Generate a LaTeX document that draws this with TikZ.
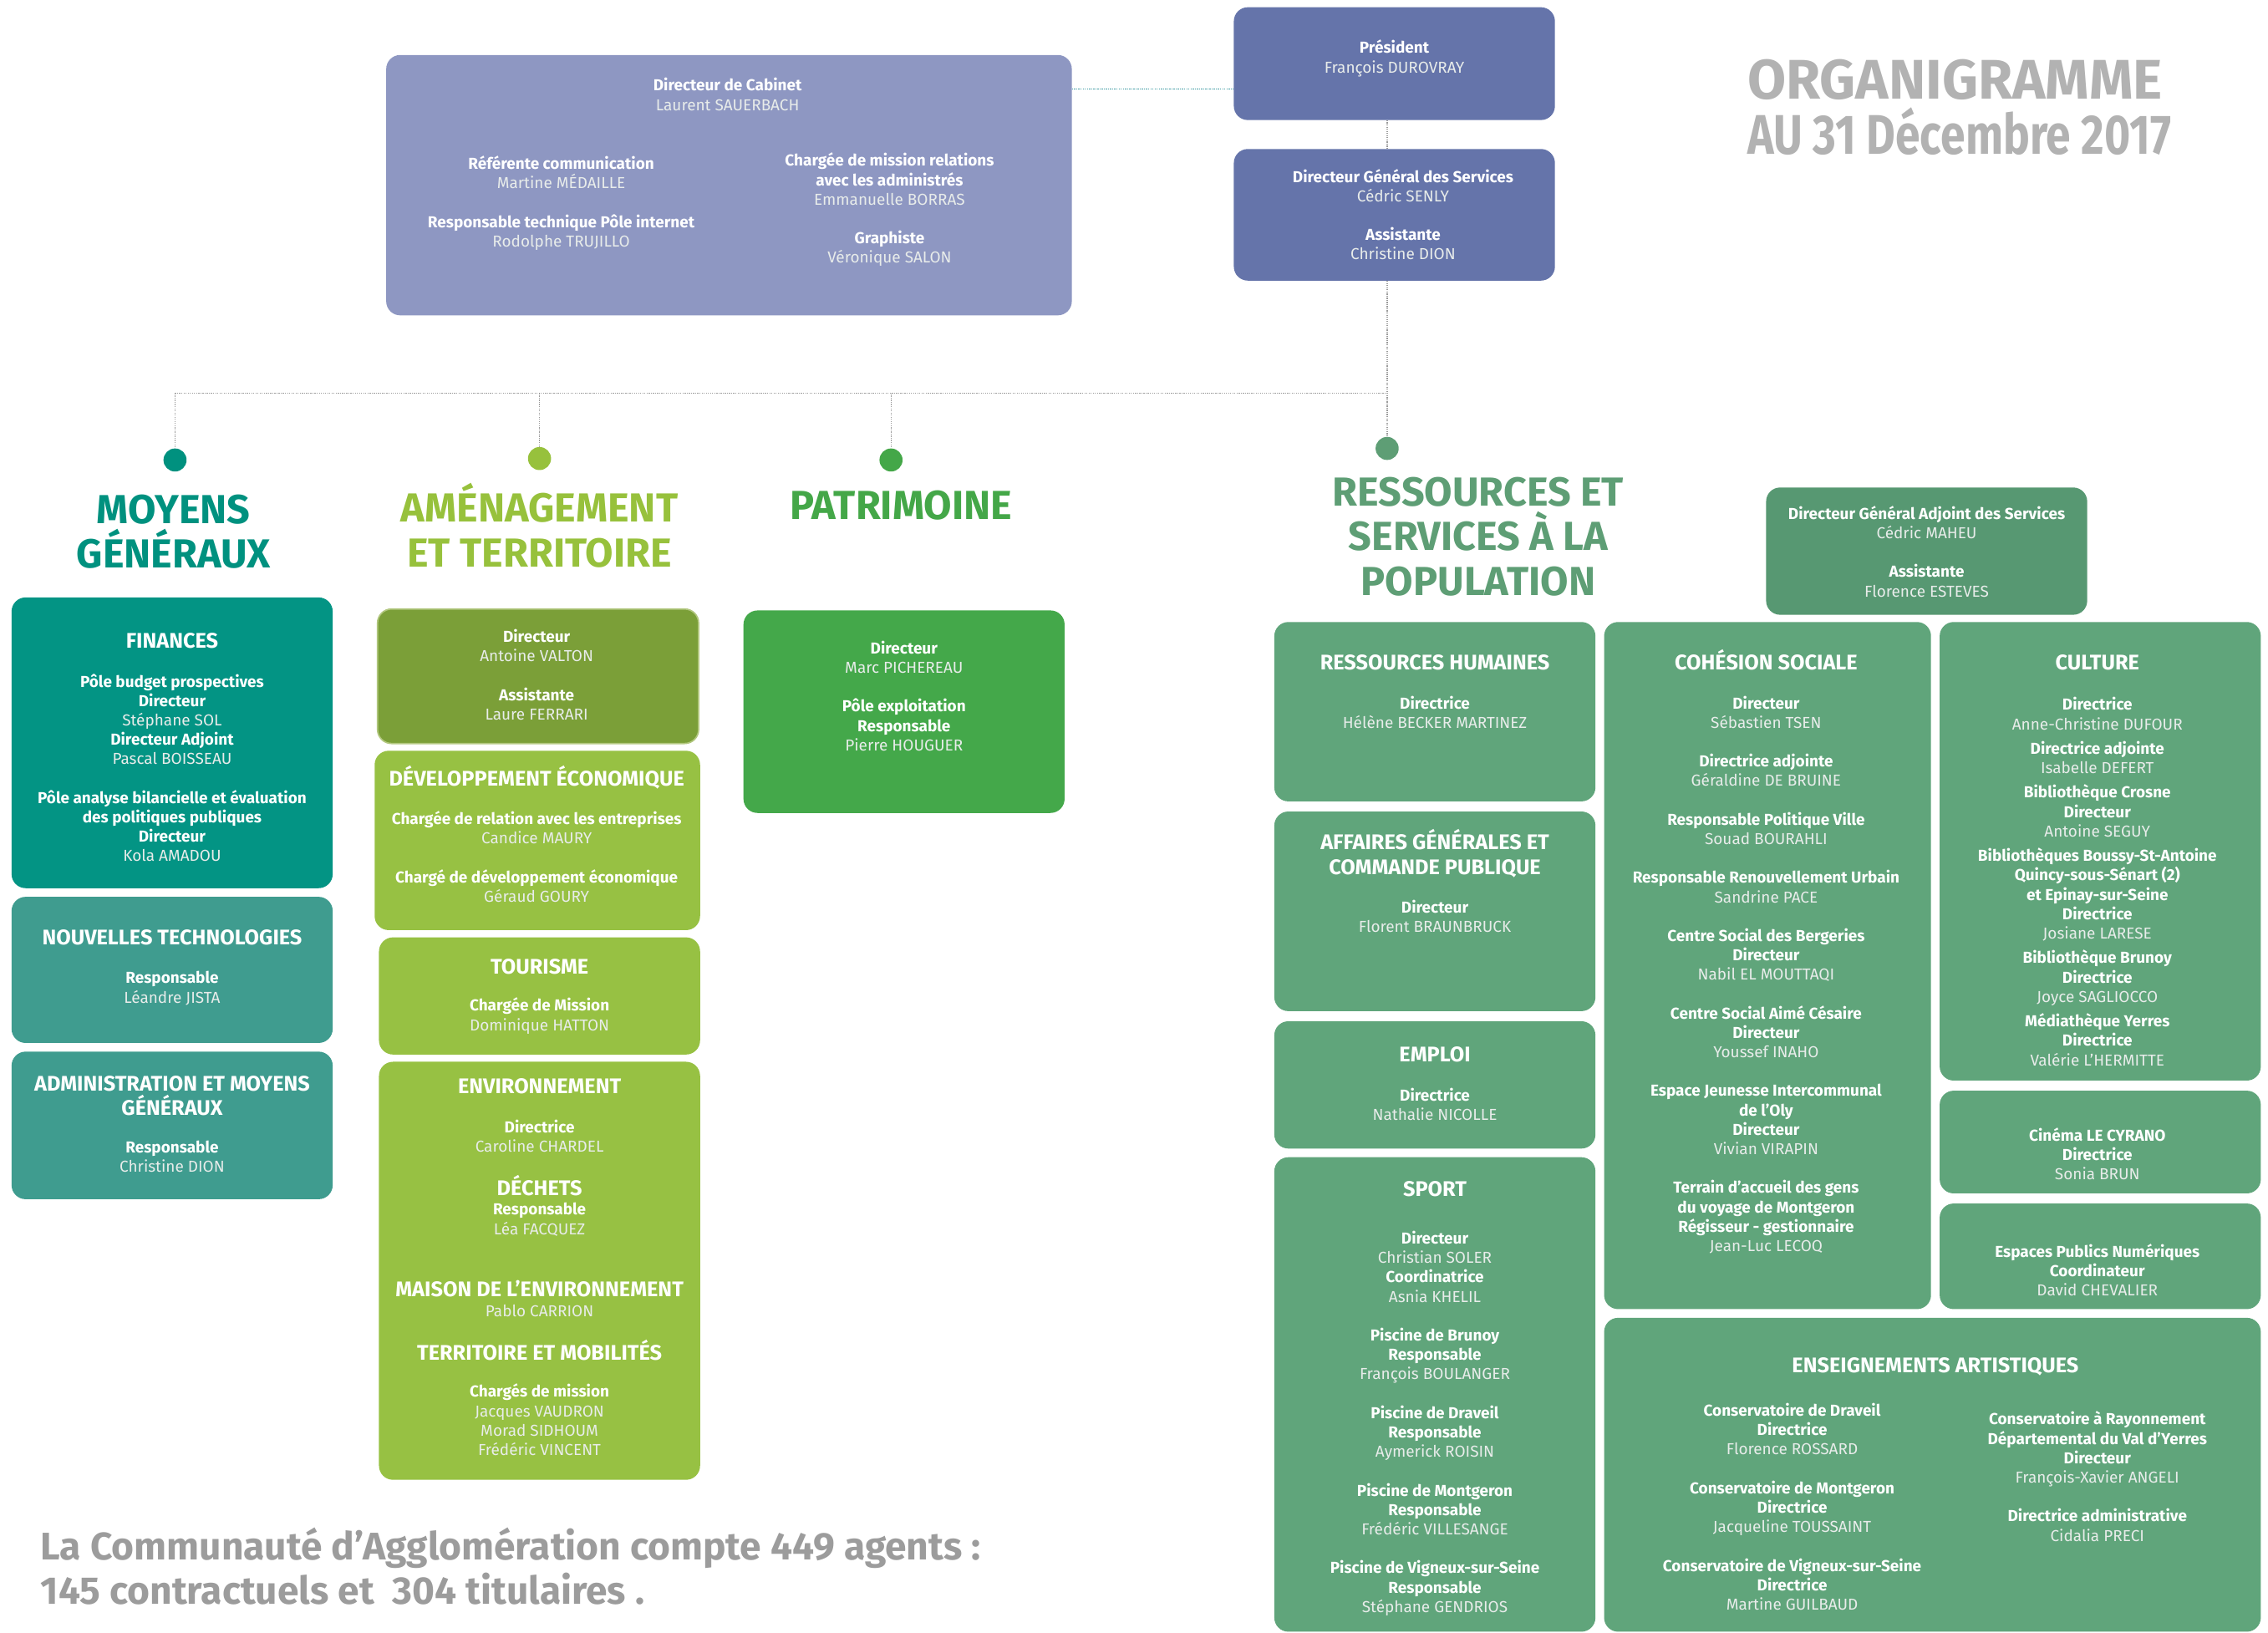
\documentclass[tikz,border=0pt]{standalone}
\usepackage{fontspec}
\usepackage{graphicx}
\setmainfont{Fira Sans}
\usetikzlibrary{fit,calc}
\definecolor{cabcol}{HTML}{8E97C2}
\definecolor{prescol}{HTML}{6574AA}
\definecolor{finteal}{HTML}{039484}
\definecolor{teallight}{HTML}{3F9C8F}
\definecolor{tealhead}{HTML}{00917F}
\definecolor{limehead}{HTML}{97C13C}
\definecolor{limebox}{HTML}{97C143}
\definecolor{olive}{HTML}{7B9F38}
\definecolor{olivebd}{HTML}{B2C77F}
\definecolor{patgreen}{HTML}{44A84A}
\definecolor{pathead}{HTML}{44A748}
\definecolor{sagehead}{HTML}{5E9E75}
\definecolor{dgacol}{HTML}{579872}
\definecolor{sagebox}{HTML}{60A57B}
\definecolor{titlegrey}{HTML}{B2B2B2}
\definecolor{botgrey}{HTML}{9C9C9C}
\definecolor{dotgrey}{HTML}{9A9A9A}
\definecolor{cabline}{HTML}{3D9AA3}
\definecolor{namecol}{HTML}{E8ECEA}
\newcommand\Rl[1]{{\bfseries #1}}
\newcommand\Nm[1]{{\color{namecol}#1}}
\newcommand\Bx[6]{\node[orgbox, fill=#6, fit={(#2,#3) (#4,#5)}] (#1) {};}
\newcommand\Bd[4]{\node[bodytxt,yshift=13pt] (#1) at (#2,#3+3.8) {\rule{0pt}{13pt}#4};}
\newcommand\Hd[4]{\node[hdtxt,yshift=17pt] (#1) at (#2,#3+5.0) {\rule{0pt}{17pt}#4};}
\newcommand\Sc[5]{\node[sectxt,text=#5,yshift=33pt] (#1) at (#2,#3+9.7) {\rule{0pt}{33pt}#4};}
\begin{document}
\begin{tikzpicture}[x=0.432717mm, y=-0.432717mm,
  orgbox/.style={rounded corners=4.2mm, inner sep=0pt, draw=none},
  bodytxt/.style={anchor=north, align=center, inner sep=0pt, text=white, font=\fontsize{13.5}{16.5}\selectfont},
  hdtxt/.style={anchor=north, align=center, inner sep=0pt, text=white, font=\fontsize{18}{21}\selectfont\bfseries},
  sectxt/.style={anchor=north, align=center, inner sep=0pt, font=\fontsize{34.5}{38}\selectfont\bfseries},
  conn/.style={draw=dotgrey, line width=0.9pt, dash pattern=on 0.9pt off 0.9pt},
  cabconn/.style={draw=cabline, line width=1.1pt, dash pattern=on 1pt off 0.8pt},
  bullet/.style={circle, inner sep=0pt, minimum size=6.9mm, draw=none}]
\path[use as bounding box] (0,0) rectangle (1568,1128.35);

% ---------- boxes ----------
\Bx{cab}{267}{38}{741}{218}{cabcol}
\Bx{pres}{853}{5}{1075}{83}{prescol}
\Bx{dgs}{853}{103}{1075}{194}{prescol}
\Bx{fin}{8}{413}{230}{614}{finteal}
\Bx{nt}{8}{620}{230}{721}{teallight}
\Bx{adm}{8}{727}{230}{829}{teallight}
\node[orgbox, fill=olive, draw=olivebd, line width=1.2pt, fit={(261,421) (483,514)}] (amdir) {};
\Bx{dev}{259}{519}{484}{643}{limebox}
\Bx{tour}{262}{648}{484}{729}{limebox}
\Bx{env}{262}{734}{484}{1023}{limebox}
\Bx{pat}{514}{422}{736}{562}{patgreen}
\Bx{dga}{1221}{337}{1443}{425}{dgacol}
\Bx{rh}{881}{430}{1103}{554}{sagebox}
\Bx{aff}{881}{561}{1103}{699}{sagebox}
\Bx{emp}{881}{706}{1103}{794}{sagebox}
\Bx{sport}{881}{800}{1103}{1128}{sagebox}
\Bx{coh}{1109}{430}{1335}{905}{sagebox}
\Bx{cul}{1341}{430}{1563}{747}{sagebox}
\Bx{cin}{1341}{754}{1563}{825}{sagebox}
\Bx{epn}{1341}{832}{1563}{905}{sagebox}
\Bx{ens}{1109}{911}{1563}{1128}{sagebox}

% ---------- bullets ----------
\node[bullet, fill=tealhead] (d1) at (121,318) {};
\node[bullet, fill=limehead] (d2) at (373,317) {};
\node[bullet, fill=pathead] (d3) at (616,318) {};
\node[bullet, fill=sagehead] (d4) at (959,310) {};

% ---------- connectors ----------
\coordinate (cl) at (0,61.5);
\coordinate (bus) at (0,272);
\draw[cabconn] (cab.east |- cl) -- (pres.west |- cl);
\draw[conn] (pres.south -| d4) -- (dgs.north -| d4);
\draw[conn] (dgs.south -| d4) -- (d4.north);
\draw[conn] (bus -| d1) -- (bus -| d4);
\draw[conn] (bus -| d1) -- (d1.north);
\draw[conn] (bus -| d2) -- (d2.north);
\draw[conn] (bus -| d3) -- (d3.north);

% ---------- title ----------
\node[anchor=north west, align=left, inner sep=0pt, yshift=44pt, text=titlegrey,
  font=\fontsize{47.5}{46.8}\selectfont\bfseries] (title) at (1208,68.3)
  {\rule{0pt}{44pt}ORGANIGRAMME\\\scalebox{0.80}[1]{AU 31 Décembre 2017}};

% ---------- section headings ----------
\Sc{s1}{120}{352}{MOYENS\\GÉNÉRAUX}{tealhead}
\Sc{s2}{373}{351}{AMÉNAGEMENT\\ET TERRITOIRE}{limehead}
\Sc{s3}{623}{349}{PATRIMOINE}{pathead}
\Sc{s4}{1022}{340}{RESSOURCES ET\\SERVICES À LA\\POPULATION}{sagehead}

% ---------- top boxes text ----------
\Bd{tcab}{503}{59}{\Rl{Directeur de Cabinet}\\ \Nm{Laurent SAUERBACH}}
\Bd{tcabl}{388}{113}{\Rl{Référente communication}\\ \Nm{Martine MÉDAILLE}\\[16.5pt]
  \Rl{Responsable technique Pôle internet}\\ \Nm{Rodolphe TRUJILLO}}
\Bd{tcabr}{615}{111}{\Rl{Chargée de mission relations}\\ \Rl{avec les administrés}\\ \Nm{Emmanuelle BORRAS}\\[16.5pt]
  \Rl{Graphiste}\\ \Nm{Véronique SALON}}
\Bd{tpres}{964}{33}{\Rl{Président}\\ \Nm{François DUROVRAY}}
\Bd{tdgs}{970}{122}{\Rl{Directeur Général des Services}\\ \Nm{Cédric SENLY}\\[16.5pt]
  \Rl{Assistante}\\ \Nm{Christine DION}}

% ---------- moyens generaux ----------
\Hd{hfin}{119}{443}{FINANCES}
\Bd{tfin}{119}{471}{\Rl{Pôle budget prospectives}\\ \Rl{Directeur}\\ \Nm{Stéphane SOL}\\ \Rl{Directeur Adjoint}\\ \Nm{Pascal BOISSEAU}\\[16.5pt]
  \Rl{Pôle analyse bilancielle et évaluation}\\ \Rl{des politiques publiques}\\ \Rl{Directeur}\\ \Nm{Kola AMADOU}}
\Hd{hnt}{119}{648}{NOUVELLES TECHNOLOGIES}
\Bd{tnt}{119}{676}{\Rl{Responsable}\\ \Nm{Léandre JISTA}}
\Hd{hadm}{119}{749}{ADMINISTRATION ET MOYENS\\GÉNÉRAUX}
\Bd{tadm}{119}{793}{\Rl{Responsable}\\ \Nm{Christine DION}}

% ---------- amenagement ----------
\Bd{tam}{371}{440}{\Rl{Directeur}\\ \Nm{Antoine VALTON}\\[16.5pt] \Rl{Assistante}\\ \Nm{Laure FERRARI}}
\Hd{hdev}{371}{538}{DÉVELOPPEMENT ÉCONOMIQUE}
\Bd{tdev}{371}{566}{\Rl{Chargée de relation avec les entreprises}\\ \Nm{Candice MAURY}\\[16.5pt]
  \Rl{Chargé de développement économique}\\ \Nm{Géraud GOURY}}
\Hd{htour}{373}{668}{TOURISME}
\Bd{ttour}{373}{695}{\Rl{Chargée de Mission}\\ \Nm{Dominique HATTON}}
\Hd{henv}{373}{751}{ENVIRONNEMENT}
\Bd{tenv}{373}{779}{\Rl{Directrice}\\ \Nm{Caroline CHARDEL}}
\Hd{hdech}{373}{821}{DÉCHETS}
\Bd{tdech}{373}{836}{\Rl{Responsable}\\ \Nm{Léa FACQUEZ}}
\Hd{hmais}{373}{891}{MAISON DE L’ENVIRONNEMENT}
\Bd{tmais}{373}{906}{\Nm{Pablo CARRION}}
\Hd{hterr}{373}{935}{TERRITOIRE ET MOBILITÉS}
\Bd{tterr}{373}{962}{\Rl{Chargés de mission}\\ \Nm{Jacques VAUDRON}\\ \Nm{Morad SIDHOUM}\\ \Nm{Frédéric VINCENT}}

% ---------- patrimoine ----------
\Bd{tpat}{625}{448}{\Rl{Directeur}\\ \Nm{Marc PICHEREAU}\\[16.5pt] \Rl{Pôle exploitation}\\ \Rl{Responsable}\\ \Nm{Pierre HOUGUER}}

% ---------- ressources ----------
\Bd{tdga}{1332}{355}{\Rl{Directeur Général Adjoint des Services}\\ \Nm{Cédric MAHEU}\\[16.5pt] \Rl{Assistante}\\ \Nm{Florence ESTEVES}}
\Hd{hrh}{992}{458}{RESSOURCES HUMAINES}
\Bd{trh}{992}{486}{\Rl{Directrice}\\ \Nm{Hélène BECKER MARTINEZ}}
\Hd{haff}{992}{582}{AFFAIRES GÉNÉRALES ET\\COMMANDE PUBLIQUE}
\Bd{taff}{992}{627}{\Rl{Directeur}\\ \Nm{Florent BRAUNBRUCK}}
\Hd{hemp}{992}{729}{EMPLOI}
\Bd{temp}{992}{757}{\Rl{Directrice}\\ \Nm{Nathalie NICOLLE}}
\Hd{hsport}{992}{822}{SPORT}
\Bd{tsport}{992}{856}{\Rl{Directeur}\\ \Nm{Christian SOLER}\\ \Rl{Coordinatrice}\\ \Nm{Asnia KHELIL}\\[16.5pt]
  \Rl{Piscine de Brunoy}\\ \Rl{Responsable}\\ \Nm{François BOULANGER}\\[16.5pt]
  \Rl{Piscine de Draveil}\\ \Rl{Responsable}\\ \Nm{Aymerick ROISIN}\\[16.5pt]
  \Rl{Piscine de Montgeron}\\ \Rl{Responsable}\\ \Nm{Frédéric VILLESANGE}\\[16.5pt]
  \Rl{Piscine de Vigneux-sur-Seine}\\ \Rl{Responsable}\\ \Nm{Stéphane GENDRIOS}}
\Hd{hcoh}{1221}{458}{COHÉSION SOCIALE}
\Bd{tcoh}{1221}{486}{\Rl{Directeur}\\ \Nm{Sébastien TSEN}\\[16.5pt]
  \Rl{Directrice adjointe}\\ \Nm{Géraldine DE BRUINE}\\[16.5pt]
  \Rl{Responsable Politique Ville}\\ \Nm{Souad BOURAHLI}\\[16.5pt]
  \Rl{Responsable Renouvellement Urbain}\\ \Nm{Sandrine PACE}\\[16.5pt]
  \Rl{Centre Social des Bergeries}\\ \Rl{Directeur}\\ \Nm{Nabil EL MOUTTAQI}\\[16.5pt]
  \Rl{Centre Social Aimé Césaire}\\ \Rl{Directeur}\\ \Nm{Youssef INAHO}\\[16.5pt]
  \Rl{Espace Jeunesse Intercommunal}\\ \Rl{de l’Oly}\\ \Rl{Directeur}\\ \Nm{Vivian VIRAPIN}\\[16.5pt]
  \Rl{Terrain d’accueil des gens}\\ \Rl{du voyage de Montgeron}\\ \Rl{Régisseur - gestionnaire}\\ \Nm{Jean-Luc LECOQ}}
\Hd{hcul}{1450}{458}{CULTURE}
\Bd{tcul}{1450}{487}{\Rl{Directrice}\\ \Nm{Anne-Christine DUFOUR}\\[4.4pt]
  \Rl{Directrice adjointe}\\ \Nm{Isabelle DEFERT}\\[4.4pt]
  \Rl{Bibliothèque Crosne}\\ \Rl{Directeur}\\ \Nm{Antoine SEGUY}\\[4.4pt]
  \Rl{Bibliothèques Boussy-St-Antoine}\\ \Rl{Quincy-sous-Sénart (2)}\\ \Rl{et Epinay-sur-Seine}\\ \Rl{Directrice}\\ \Nm{Josiane LARESE}\\[4.4pt]
  \Rl{Bibliothèque Brunoy}\\ \Rl{Directrice}\\ \Nm{Joyce SAGLIOCCO}\\[4.4pt]
  \Rl{Médiathèque Yerres}\\ \Rl{Directrice}\\ \Nm{Valérie L’HERMITTE}}
\Bd{tcin}{1450}{785}{\Rl{Cinéma LE CYRANO}\\ \Rl{Directrice}\\ \Nm{Sonia BRUN}}
\Bd{tepn}{1450}{865}{\Rl{Espaces Publics Numériques}\\ \Rl{Coordinateur}\\ \Nm{David CHEVALIER}}
\Hd{hens}{1338}{944}{ENSEIGNEMENTS ARTISTIQUES}
\Bd{tensl}{1239}{975}{\Rl{Conservatoire de Draveil}\\ \Rl{Directrice}\\ \Nm{Florence ROSSARD}\\[16.5pt]
  \Rl{Conservatoire de Montgeron}\\ \Rl{Directrice}\\ \Nm{Jacqueline TOUSSAINT}\\[16.5pt]
  \Rl{Conservatoire de Vigneux-sur-Seine}\\ \Rl{Directrice}\\ \Nm{Martine GUILBAUD}}
\Bd{tensr}{1450}{981}{\Rl{Conservatoire à Rayonnement}\\ \Rl{Départemental du Val d’Yerres}\\ \Rl{Directeur}\\ \Nm{François-Xavier ANGELI}\\[16.5pt]
  \Rl{Directrice administrative}\\ \Nm{Cidalia PRECI}}

% ---------- bottom note ----------
\node[anchor=north west, align=left, inner sep=0pt, yshift=31pt, text=botgrey,
  font=\fontsize{32.8}{38}\selectfont\bfseries] (note) at (28,1078.2)
  {\rule{0pt}{31pt}La Communauté d’Agglomération compte 449 agents :\\145 contractuels et~ 304 titulaires .};
\end{tikzpicture}
\end{document}
